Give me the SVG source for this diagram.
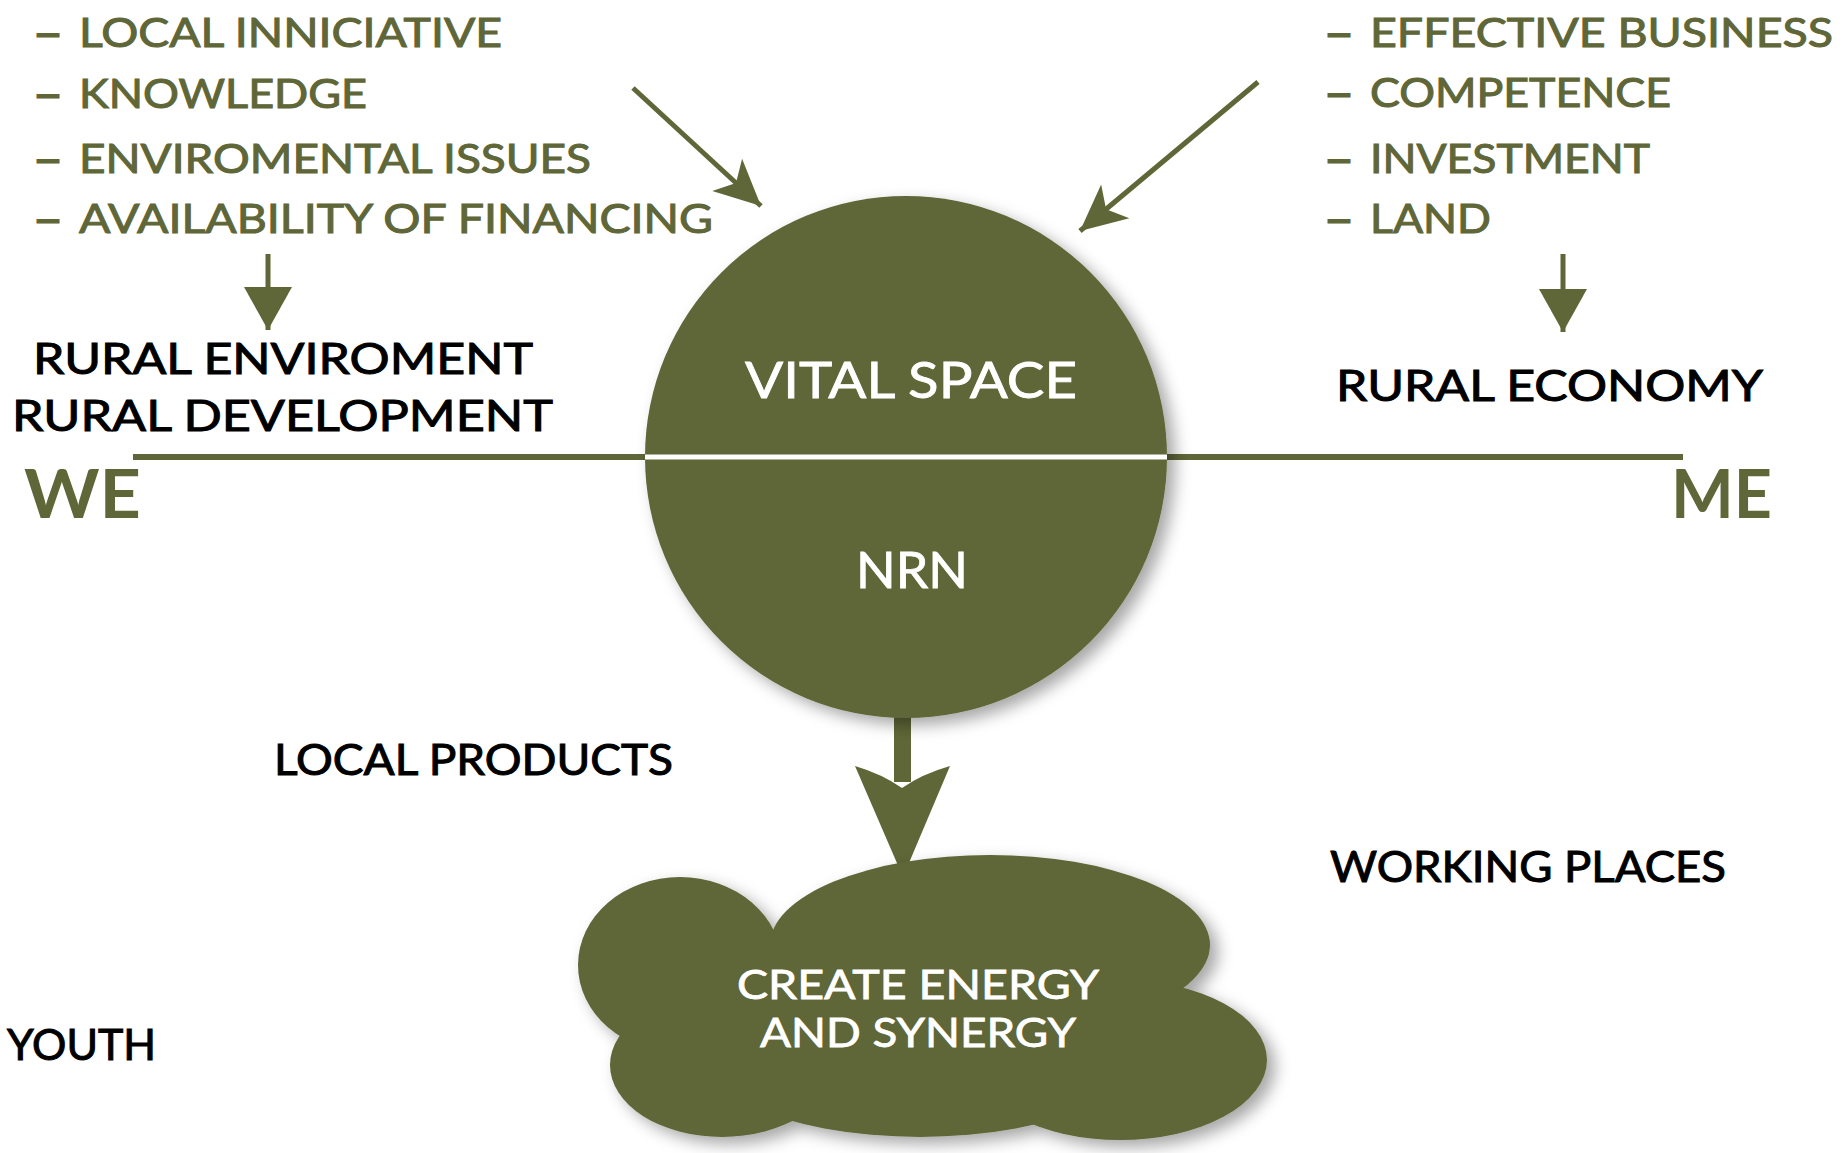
<svg xmlns="http://www.w3.org/2000/svg" width="1845" height="1153" viewBox="0 0 1845 1153">
<style>
.g{fill:#5f6637;stroke:#5f6637;stroke-width:1;font-family:Lato,"Open Sans",sans-serif;font-size:40px;}
.d{font-weight:bold;}
.k{fill:#000;stroke:#000;stroke-width:1;font-family:Lato,"Open Sans",sans-serif;font-size:43px;}
.w{fill:#fff;stroke:#fff;stroke-width:0.8;font-family:Lato,"Open Sans",sans-serif;text-anchor:middle;}
.big{fill:#5f6637;font-family:Lato,"Open Sans",sans-serif;font-size:66px;font-weight:bold;}
.ln{stroke:#5f6637;fill:none;}
.fill{fill:#5f6637;}
</style>
<defs>
<filter id="sh" x="-20%" y="-20%" width="140%" height="140%">
<feDropShadow dx="8" dy="7" stdDeviation="8" flood-color="#000" flood-opacity="0.35"/>
</filter>
<marker id="notch" markerUnits="userSpaceOnUse" markerWidth="60" markerHeight="60" viewBox="-50 -30 60 60" refX="0" refY="0" orient="auto">
<path d="M0,0 L-46,-22 L-34,0 L-46,22 Z" fill="#5f6637"/>
</marker>
<marker id="tri" markerUnits="userSpaceOnUse" markerWidth="60" markerHeight="60" viewBox="-50 -30 60 60" refX="0" refY="0" orient="auto">
<path d="M0,0 L-43,-24 L-43,24 Z" fill="#5f6637"/>
</marker>
</defs>
<rect width="1845" height="1153" fill="#fff"/>

<g id="connectors">
<line class="ln" x1="133" y1="457" x2="646" y2="457" stroke-width="6"/>
<line class="ln" x1="1166" y1="457" x2="1683" y2="457" stroke-width="6"/>
<line class="ln" x1="633" y1="88" x2="761" y2="206" stroke-width="5" marker-end="url(#notch)"/>
<line class="ln" x1="1258" y1="82" x2="1080" y2="231" stroke-width="5" marker-end="url(#notch)"/>
<line class="ln" x1="268" y1="254" x2="268" y2="330" stroke-width="5" marker-end="url(#tri)"/>
<line class="ln" x1="1563" y1="254" x2="1563" y2="332" stroke-width="5" marker-end="url(#tri)"/>
<rect class="fill" x="894" y="712" width="17" height="70"/>
<path class="fill" d="M855,766 Q882,774 902,788 Q922,774 950,766 L903,877 Z"/>
</g>

<g id="vital-space">
<circle cx="906" cy="457" r="261" fill="#5f6637" filter="url(#sh)"/>
<line x1="645" y1="457" x2="1167" y2="457" stroke="#fff" stroke-width="5"/>
<text class="w" x="911" y="398" font-size="50" textLength="332" lengthAdjust="spacingAndGlyphs">VITAL SPACE</text>
<text class="w" x="912" y="588" font-size="50" textLength="112" lengthAdjust="spacingAndGlyphs">NRN</text>
</g>

<g id="energy-cloud">
<g filter="url(#sh)" fill="#5f6637">
<ellipse cx="680" cy="965" rx="102" ry="88"/>
<ellipse cx="990" cy="945" rx="220" ry="90"/>
<ellipse cx="1120" cy="1060" rx="147" ry="80"/>
<ellipse cx="722" cy="1065" rx="112" ry="72"/>
<ellipse cx="920" cy="1025" rx="250" ry="112"/>
</g>
<text class="w" x="918" y="999" font-size="40" textLength="362" lengthAdjust="spacingAndGlyphs">CREATE ENERGY</text>
<text class="w" x="918" y="1047" font-size="40" textLength="316" lengthAdjust="spacingAndGlyphs">AND SYNERGY</text>
</g>

<g id="we-factors">
<text class="g" x="35" y="47"><tspan class="d" textLength="26" lengthAdjust="spacingAndGlyphs">—</tspan><tspan x="79" textLength="423" lengthAdjust="spacingAndGlyphs">LOCAL INNICIATIVE</tspan></text>
<text class="g" x="35" y="108"><tspan class="d" textLength="26" lengthAdjust="spacingAndGlyphs">—</tspan><tspan x="79" textLength="288" lengthAdjust="spacingAndGlyphs">KNOWLEDGE</tspan></text>
<text class="g" x="35" y="173"><tspan class="d" textLength="26" lengthAdjust="spacingAndGlyphs">—</tspan><tspan x="79" textLength="512" lengthAdjust="spacingAndGlyphs">ENVIROMENTAL ISSUES</tspan></text>
<text class="g" x="35" y="233"><tspan class="d" textLength="26" lengthAdjust="spacingAndGlyphs">—</tspan><tspan x="79" textLength="634" lengthAdjust="spacingAndGlyphs">AVAILABILITY OF FINANCING</tspan></text>
</g>

<g id="me-factors">
<text class="g" x="1326" y="47"><tspan class="d" textLength="26" lengthAdjust="spacingAndGlyphs">—</tspan><tspan x="1370" textLength="463" lengthAdjust="spacingAndGlyphs">EFFECTIVE BUSINESS</tspan></text>
<text class="g" x="1326" y="107"><tspan class="d" textLength="26" lengthAdjust="spacingAndGlyphs">—</tspan><tspan x="1370" textLength="301" lengthAdjust="spacingAndGlyphs">COMPETENCE</tspan></text>
<text class="g" x="1326" y="173"><tspan class="d" textLength="26" lengthAdjust="spacingAndGlyphs">—</tspan><tspan x="1370" textLength="280" lengthAdjust="spacingAndGlyphs">INVESTMENT</tspan></text>
<text class="g" x="1326" y="233"><tspan class="d" textLength="26" lengthAdjust="spacingAndGlyphs">—</tspan><tspan x="1370" textLength="121" lengthAdjust="spacingAndGlyphs">LAND</tspan></text>
</g>

<g id="rural-environment">
<text class="k" x="33" y="374" textLength="500" lengthAdjust="spacingAndGlyphs">RURAL ENVIROMENT</text>
<text class="k" x="12" y="431" textLength="541" lengthAdjust="spacingAndGlyphs">RURAL DEVELOPMENT</text>
</g>

<g id="rural-economy">
<text class="k" x="1336" y="401" textLength="427" lengthAdjust="spacingAndGlyphs">RURAL ECONOMY</text>
</g>

<g id="we"><text class="big" x="24" y="518" textLength="117" lengthAdjust="spacingAndGlyphs">WE</text></g>
<g id="me"><text class="big" x="1671" y="518" textLength="101" lengthAdjust="spacingAndGlyphs">ME</text></g>

<g id="local-products"><text class="k" x="274" y="775" font-size="38" textLength="399" lengthAdjust="spacingAndGlyphs">LOCAL PRODUCTS</text></g>
<g id="working-places"><text class="k" x="1330" y="882" font-size="38" textLength="396" lengthAdjust="spacingAndGlyphs">WORKING PLACES</text></g>
<g id="youth"><text class="k" x="7" y="1060" font-size="38" textLength="149" lengthAdjust="spacingAndGlyphs">YOUTH</text></g>
</svg>
